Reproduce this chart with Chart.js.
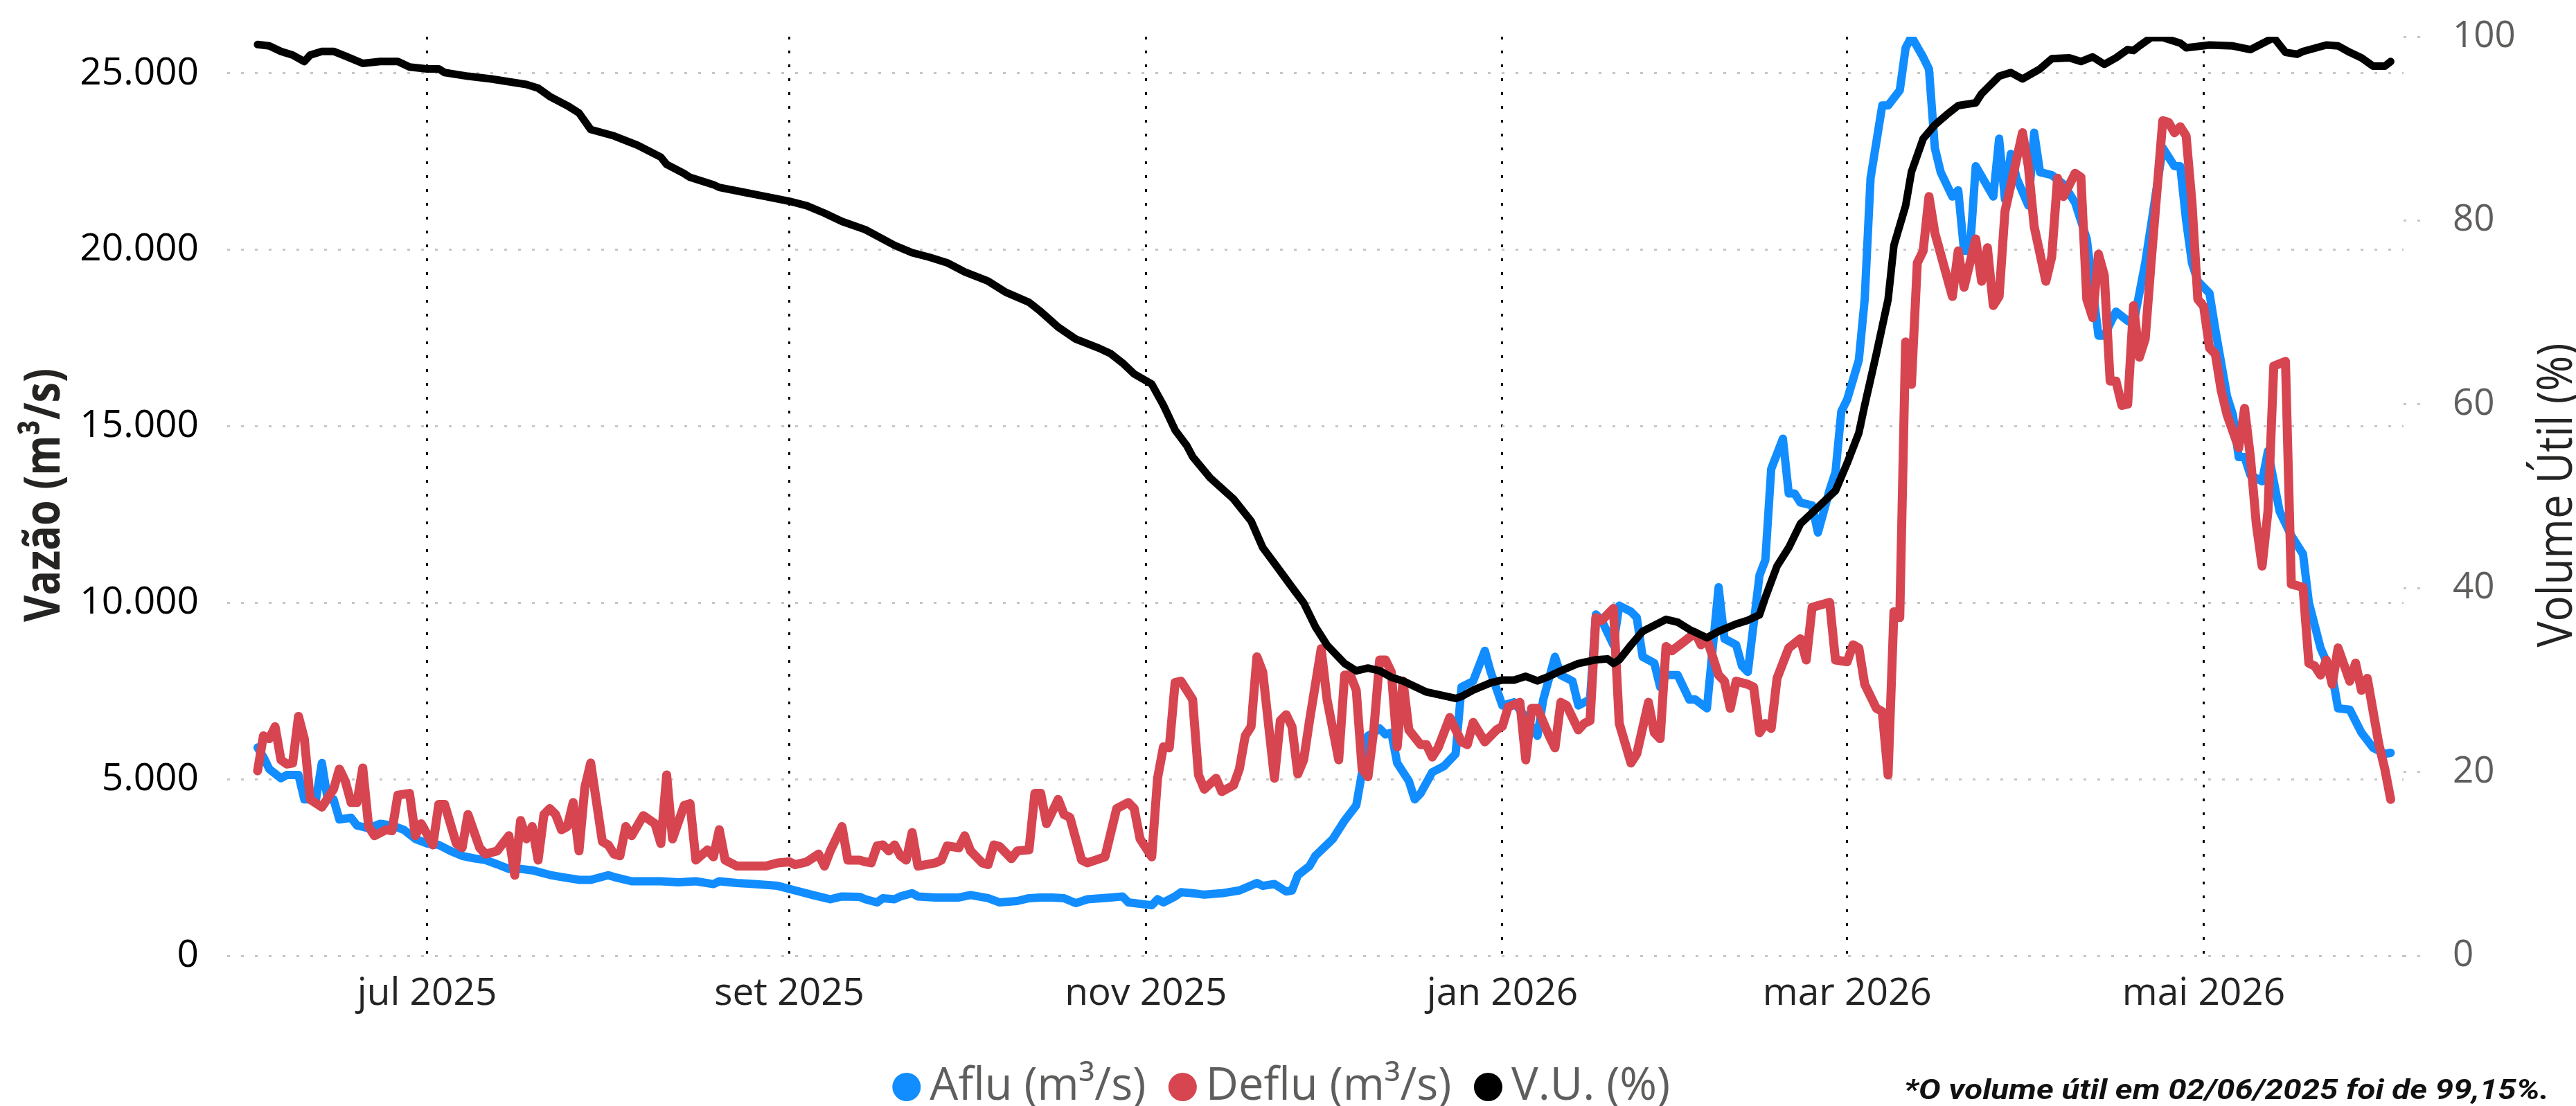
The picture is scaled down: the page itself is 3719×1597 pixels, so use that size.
<!DOCTYPE html>
<html lang="pt-BR">
<head>
<meta charset="utf-8">
<title>Vazão e Volume Útil</title>
<script src="https://cdn.jsdelivr.net/npm/chart.js@4.4.1/dist/chart.umd.min.js"></script>
<style>
  html, body { margin: 0; padding: 0; background: #fff; }
  #wrap { position: relative; width: 3719px; height: 1597px; }
</style>
</head>
<body>
<div id="wrap"><canvas id="grafico"></canvas></div>
<script>
// dias contados a partir de 02/06/2025 (dia 0)
const mesDia = [29, 91, 152, 213, 272, 333];
const mesRotulo = ['jul 2025', 'set 2025', 'nov 2025', 'jan 2026', 'mar 2026', 'mai 2026'];
const vazaoTicks = [0, 5000, 10000, 15000, 20000, 25000];
const vuTicks = [0, 20, 40, 60, 80, 100];

// Afluência (m³/s)
const aflDia = [0,1,2,4,5,7,8,10,11,12,13,14,16,17,19,21,23,25,27,29,31,33,35,37,39,41,43,45,47,50,
  52,55,57,60,61,64,66,69,72,75,78,79,82,85,89,92,95,98,100,103,104,106,107,109,110,112,113,116,120,122,
  125,127,130,132,134,136,138,140,142,146,148,149,153,154,155,157,158,160,162,165,168,171,172,174,176,177,178,180,181,184,
  186,188,189,190,191,192,193,194,195,197,198,199,201,203,205,206,208,210,211,213,215,217,219,220,222,223,225,226,228,229,
  230,232,233,235,236,237,239,240,241,243,245,246,248,250,251,253,254,255,257,258,259,261,262,263,264,266,267,269,270,271,
  272,274,275,276,278,279,281,282,283,285,286,287,288,290,291,292,293,294,297,298,299,300,301,303,304,305,307,309,311,313,
  315,316,318,320,321,323,324,326,328,329,330,331,332,334,335,337,338,339,340,341,343,344,346,348,350,351,353,355,356,358,
  360,362,364,365];
const aflVal = [5900,5630,5290,5030,5120,5120,4430,4430,5460,4430,4430,3860,3910,3690,3610,3740,3690,3570,3310,3180,3140,2970,2830,2760,2710,2590,2460,2460,2420,2290,
  2230,2150,2150,2280,2230,2110,2110,2110,2080,2110,2030,2110,2060,2030,1980,1850,1720,1600,1680,1670,1600,1510,1630,1600,1680,1770,1680,1650,1650,1720,
  1630,1510,1550,1630,1650,1650,1630,1490,1600,1650,1680,1510,1430,1600,1510,1680,1800,1770,1730,1770,1850,2060,1980,2030,1820,1850,2280,2540,2830,3310,
  3830,4260,5200,6230,6320,6440,6270,6320,5460,4950,4430,4600,5200,5370,5720,7610,7780,8640,8040,7090,7180,6750,6230,7260,8470,7950,7780,7090,7260,9670,
  9500,8810,9920,9750,9580,8470,8290,7610,7950,7950,7260,7260,7010,10440,8980,8810,8210,8040,10780,11210,13790,14650,13100,13100,12840,12760,11990,13200,13700,15420,
  15760,16880,18600,22030,24090,24090,24520,25720,26040,25460,25120,22890,22200,21510,21690,19970,19970,22370,21510,23150,21430,22720,22030,21260,23320,22200,22120,21860,21340,20310,
  17570,17570,18250,17990,17910,19630,20700,22890,22370,22370,20830,19630,19110,18770,17740,15850,15330,14130,14130,13620,13440,14300,12590,11900,11380,10010,8720,7950,7010,6970,
  6320,5890,5720,5750];

// Defluência (m³/s)
const defDia = [0,1,2,3,4,5,6,7,8,9,11,13,14,15,16,17,18,19,20,22,23,24,26,27,28,30,31,32,34,35,
  36,38,39,41,43,44,45,46,47,48,49,50,51,52,53,54,55,56,57,59,60,61,62,63,64,66,68,69,70,71,
  73,74,75,77,78,79,80,82,87,89,91,92,94,96,97,98,100,101,103,104,105,106,107,108,109,110,111,112,113,116,
  117,118,120,121,122,124,125,126,127,129,130,132,133,134,135,137,138,139,141,142,145,147,149,150,151,153,154,155,156,157,
  158,160,161,162,164,165,167,168,169,170,171,172,174,175,176,177,178,179,180,182,183,185,186,187,188,189,190,191,192,193,
  194,195,196,197,199,200,201,202,204,206,207,208,210,212,213,214,216,217,218,219,221,222,223,224,226,227,228,229,230,232,
  233,235,236,238,239,240,241,242,244,246,247,248,250,251,252,253,255,256,257,258,259,260,262,264,265,266,267,269,270,272,
  273,274,275,277,278,279,280,281,282,283,284,285,286,287,290,291,292,294,295,296,297,298,299,302,303,304,306,307,308,309,
  311,312,313,314,315,316,317,318,319,320,321,322,323,324,326,327,328,329,330,331,332,333,334,335,336,337,339,340,341,342,
  343,344,345,347,348,350,351,352,353,354,355,356,358,359,360,361,363,364,365];
const defVal = [5240,6230,6150,6490,5550,5430,5460,6780,6150,4430,4210,4720,5290,4950,4340,4340,5320,3660,3400,3570,3540,4550,4600,3400,3740,3140,4290,4290,3180,3060,
  4000,3060,2880,2970,3400,2280,3830,3310,3660,2710,4000,4170,4000,3570,3660,4340,2970,4770,5460,3230,3140,2880,2830,3660,3400,3970,3740,3180,5120,3310,
  4260,4310,2710,3000,2800,3570,2710,2540,2540,2630,2660,2580,2660,2880,2540,2970,3660,2710,2710,2660,2630,3110,3140,2970,3140,2830,2710,3490,2540,2630,
  2710,3110,3060,3400,2970,2630,2580,3140,3090,2750,2970,3000,4600,4600,3740,4430,4000,3920,2710,2630,2800,4170,4340,4170,3310,2800,5030,5920,5890,7740,
  7780,7260,5120,4720,5030,4650,4830,5290,6230,6490,8470,8040,5030,6660,6830,6490,5150,5550,6660,8700,7260,5550,7950,7950,7520,5290,5070,6400,8380,8380,
  8040,5920,7780,6400,5980,5980,5630,5890,6750,6060,5980,6610,6060,6400,6500,7050,7180,5550,7010,7010,6230,5890,7180,7090,6400,6580,6660,9580,9500,9840,
  6580,5460,5720,7180,6320,6150,8760,8640,8890,9150,8810,8980,7950,7780,7010,7780,7690,7610,6320,6580,6440,7860,8720,8980,8380,9870,9920,10010,8380,8330,
  8810,8720,7690,7010,6920,5120,9750,9580,17390,16190,19630,19970,21510,20480,18680,19970,18940,20310,19110,20060,18420,18680,21090,23320,22370,20660,19110,19800,22030,21510,
  22170,22060,18600,18080,19880,19280,16280,16280,15590,15630,18420,16960,17480,19630,23660,23610,23320,23490,23230,21340,18600,18400,17220,17050,16020,15330,14390,15510,14130,12240,
  11040,12590,16710,16840,10530,10440,8290,8210,7950,8380,7690,8720,7780,8290,7520,7860,5980,5290,4430];

// Volume útil (%)
const vuDia = [0,2,4,6,8,9,11,13,15,18,21,24,26,29,31,32,36,40,43,46,48,50,53,55,57,61,65,69,70,73,
  74,78,79,83,87,91,94,97,100,104,109,112,115,118,121,125,128,132,134,137,140,144,146,148,150,153,155,157,159,160,
  163,167,170,172,174,177,179,181,183,186,188,190,192,194,196,200,205,206,208,211,213,215,217,219,221,223,226,229,231,232,
  233,235,237,241,243,245,248,250,253,255,257,258,260,262,264,266,268,270,272,274,275,277,279,280,282,283,285,287,289,291,
  294,295,298,300,302,305,307,310,312,314,316,318,320,321,322,324,326,329,330,334,338,341,345,347,349,350,354,356,358,360,
  362,364,365];
const vuVal = [99.15,99.0,98.4,98.0,97.3,98.0,98.4,98.4,97.9,97.1,97.3,97.3,96.7,96.5,96.5,96.1,95.7,95.4,95.1,94.8,94.4,93.5,92.5,91.7,89.9,89.2,88.2,86.9,86.1,85.1,
  84.7,83.9,83.6,83.1,82.6,82.1,81.6,80.8,79.9,79.0,77.3,76.5,76.0,75.4,74.4,73.4,72.2,71.1,70.1,68.4,67.1,66.1,65.5,64.5,63.3,62.2,59.9,57.2,55.5,54.3,
  52.0,49.7,47.3,44.4,42.7,40.1,38.4,35.8,33.8,31.8,31.0,31.3,31.0,30.3,29.9,28.7,28.0,28.2,28.9,29.7,30.0,30.0,30.4,29.9,30.4,31.0,31.8,32.2,32.3,31.8,
  32.2,33.8,35.3,36.6,36.3,35.5,34.6,35.3,36.1,36.5,37.1,39.0,42.4,44.4,47.0,48.2,49.4,50.6,53.6,56.9,59.9,65.5,71.4,77.3,81.6,85.3,88.9,90.4,91.5,92.5,
  92.8,93.8,95.7,96.1,95.4,96.5,97.6,97.7,97.3,97.8,97.0,97.7,98.6,98.5,99.0,99.9,99.9,99.3,98.8,99.1,99.0,98.6,99.9,98.3,98.1,98.4,99.1,99.0,98.3,97.7,
  96.8,96.8,97.3];

const pontos = (dias, vals) => dias.map((d, i) => ({ x: d, y: vals[i] }));
const milhar = v => String(v).replace(/\B(?=(\d{3})+(?!\d))/g, '.');
const fonte = '"Open Sans", sans-serif';

// títulos dos eixos e nota (texto condensado, como no original)
const textosExtras = {
  id: 'textosExtras',
  afterDraw(chart) {
    const ctx = chart.ctx;
    const escreve = (txt, x, y, font, cor, comp, girar) => {
      ctx.save();
      ctx.font = font;
      ctx.fillStyle = cor;
      ctx.textBaseline = 'alphabetic';
      ctx.textAlign = girar ? 'center' : 'left';
      ctx.translate(x, y);
      if (girar) ctx.rotate(-Math.PI / 2);
      ctx.scale(comp / ctx.measureText(txt).width, 1);
      ctx.fillText(txt, 0, 0);
      ctx.restore();
    };
    escreve('Vazão (m³/s)', 86, 715, 'bold 71px ' + fonte, '#252423', 366, true);
    escreve('Volume Útil (%)', 3713, 715, '70px ' + fonte, '#252423', 439, true);
    escreve('*O volume útil em 02/06/2025 foi de 99,15%.', 2749, 1587, 'italic bold 40px Roboto', '#111111', 931, false);
  }
};

new Chart(document.getElementById('grafico'), {
  type: 'line',
  data: {
    datasets: [
      { label: 'Aflu (m³/s)', data: pontos(aflDia, aflVal), borderColor: '#118DFF', backgroundColor: '#118DFF',
        borderWidth: 12, yAxisID: 'y', order: 3 },
      { label: 'Deflu (m³/s)', data: pontos(defDia, defVal), borderColor: '#D64550', backgroundColor: '#D64550',
        borderWidth: 13, yAxisID: 'y', order: 2 },
      { label: 'V.U. (%)', data: pontos(vuDia, vuVal), borderColor: '#000000', backgroundColor: '#000000',
        borderWidth: 11, yAxisID: 'y1', order: 1 }
    ]
  },
  options: {
    responsive: true,
    maintainAspectRatio: false,
    animation: false,
    layout: { padding: { top: 53, bottom: -15, left: 0, right: 0 } },
    elements: {
      point: { radius: 0, hoverRadius: 0 },
      line: { tension: 0, borderJoinStyle: 'round', borderCapStyle: 'round' }
    },
    plugins: {
      tooltip: { enabled: false },
      legend: {
        position: 'bottom',
        labels: {
          usePointStyle: true, pointStyle: 'circle', boxWidth: 2, boxHeight: 29, padding: 52,
          color: '#605E5C', font: { family: fonte, size: 65 },
          sort: (a, b) => a.datasetIndex - b.datasetIndex,
          generateLabels: chart => Chart.defaults.plugins.legend.labels.generateLabels(chart)
            .map(item => ({ ...item, lineWidth: 0 }))
        }
      }
    },
    scales: {
      x: {
        type: 'linear', min: -5.2, max: 367.2,
        afterBuildTicks: scale => { scale.ticks = mesDia.map(v => ({ value: v })); },
        afterFit: scale => { scale.height = 105; },
        ticks: {
          autoSkip: false, maxRotation: 0, padding: 22,
          color: '#252423', font: { family: fonte, size: 55 },
          callback: v => mesRotulo[mesDia.indexOf(v)]
        },
        grid: { color: '#000000', lineWidth: 3, drawTicks: false },
        border: { display: false, dash: [4, 16] }
      },
      y: {
        position: 'left', min: 0, max: 26040,
        afterFit: scale => { scale.width = 328; },
        afterBuildTicks: scale => { scale.ticks = vazaoTicks.map(v => ({ value: v })); },
        ticks: { padding: 0, color: '#000000', font: { family: fonte, size: 55 }, callback: v => milhar(v) },
        grid: { color: '#C8C6C4', lineWidth: 3, drawTicks: true, tickLength: 41, tickColor: 'rgba(0,0,0,0)' },
        border: { display: false, dash: [4, 16] }
      },
      y1: {
        position: 'right', min: 0, max: 100,
        afterFit: scale => { scale.width = 249; },
        afterBuildTicks: scale => { scale.ticks = vuTicks.map(v => ({ value: v })); },
        ticks: { padding: 0, color: '#605E5C', font: { family: fonte, size: 53 } },
        grid: {
          drawOnChartArea: false, drawTicks: true, tickLength: 71,
          tickColor: '#C8C6C4', tickWidth: 3, tickBorderDash: [4, 16, 4, 60]
        },
        border: { display: false }
      }
    }
  },
  plugins: [textosExtras]
});
</script>
</body>
</html>
